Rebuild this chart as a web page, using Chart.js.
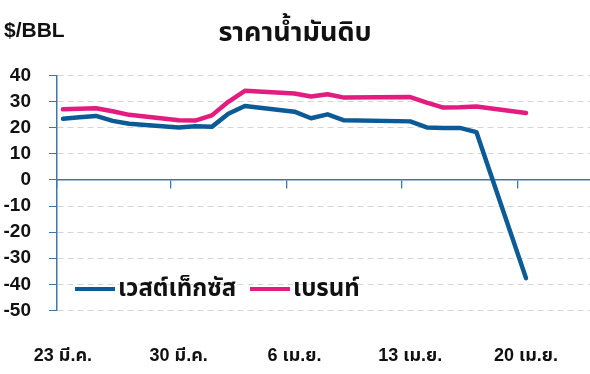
<!DOCTYPE html>
<html>
<head>
<meta charset="utf-8">
<script src="https://cdn.jsdelivr.net/npm/chart.js@4.4.1/dist/chart.umd.min.js"></script>
<style>
  html, body { margin: 0; padding: 0; background: #fff; }
  #wrap { position: relative; width: 590px; height: 374px; overflow: hidden; }
  #unit {
    position: absolute; left: 4px; top: 18px;
    font: bold 21px "Liberation Sans", Arial, sans-serif; color: #111;
  }
  #legend {
    position: absolute; left: 75px; top: 271px;
    display: flex; align-items: center;
    font: bold 24px "Noto Sans Thai", "Noto Sans", "Liberation Sans", sans-serif; color: #111;
  }
  #legend .item { display: flex; align-items: center; margin-right: 14px; }
  #legend .swatch { width: 40px; height: 4px; margin-right: 3px; }
</style>
</head>
<body>
<div id="wrap">
  <canvas id="oilchart" width="590" height="374"></canvas>
  <div id="unit">$/BBL</div>
  <div id="legend"></div>
</div>
<script>
const tradeDates = [
  "2020-03-23", "2020-03-24", "2020-03-25", "2020-03-26", "2020-03-27",
  "2020-03-30", "2020-03-31", "2020-04-01", "2020-04-02", "2020-04-03",
  "2020-04-06", "2020-04-07", "2020-04-08", "2020-04-09",
  "2020-04-13", "2020-04-14", "2020-04-15", "2020-04-16", "2020-04-17",
  "2020-04-20"
];
const wti = [23.4, 24.0, 24.5, 22.6, 21.5, 20.1, 20.5, 20.3, 25.3, 28.3,
             26.1, 23.6, 25.1, 22.8, 22.4, 20.1, 19.9, 19.9, 18.3, -37.6];
const brent = [27.0, 27.2, 27.4, 26.3, 24.9, 22.8, 22.7, 24.7, 29.9, 34.1,
               33.1, 31.9, 32.8, 31.5, 31.7, 29.6, 27.7, 27.8, 28.1, 25.6];
const tickDays = [0, 7, 14, 21, 28];
const tickLabels = ["23 มี.ค.", "30 มี.ค.", "6 เม.ย.", "13 เม.ย.", "20 เม.ย."];

const seriesNames = ["เวสต์เท็กซัส", "เบรนท์"];
const blue = "#0d5b96";
const pink = "#e31c80";
const axisBlue = "#3f78a8";
const xMin = -0.36, xMax = 31.87;

const dayOf = s => Math.round((Date.parse(s) - Date.parse(tradeDates[0])) / 86400000);
const points = vals => tradeDates.map((d, i) => ({ x: dayOf(d), y: vals[i] }));

const labelFont = { family: "'Liberation Sans', 'Noto Sans Thai', Arial, sans-serif", size: 18, weight: "bold" };

const chart = new Chart(document.getElementById("oilchart"), {
  type: "line",
  data: {
    datasets: [
      { label: seriesNames[0], data: points(wti), borderColor: blue, backgroundColor: blue },
      { label: seriesNames[1], data: points(brent), borderColor: pink, backgroundColor: pink },
    ],
  },
  options: {
    responsive: false,
    animation: false,
    layout: { padding: 0 },
    elements: {
      line: { borderWidth: 4.5, tension: 0, borderJoinStyle: "round", borderCapStyle: "round" },
      point: { radius: 0 },
    },
    plugins: {
      legend: { display: false },
      tooltip: { enabled: false },
      title: {
        display: true,
        text: "ราคาน้ำมันดิบ",
        color: "#111",
        font: { family: "'Noto Sans Thai', 'Noto Sans', sans-serif", size: 27, weight: "bold" },
        padding: { top: 19, bottom: 24 },
      },
    },
    scales: {
      x: {
        type: "linear",
        min: xMin,
        max: xMax,
        afterBuildTicks: s => { s.ticks = tickDays.map(v => ({ value: v })); },
        afterFit: s => { s.height = 63.5; },
        ticks: {
          callback: (v, i) => tickLabels[i],
          autoSkip: false,
          maxRotation: 0,
          color: "#111",
          font: labelFont,
          padding: 27,
        },
        grid: { display: false },
        border: { display: false },
      },
      xZero: {
        type: "linear",
        axis: "x",
        position: { y: 0 },
        min: xMin,
        max: xMax,
        afterBuildTicks: s => { s.ticks = tickDays.map(v => ({ value: Math.max(xMin, v - 0.5) })); },
        ticks: { display: false },
        grid: { drawOnChartArea: false, drawTicks: true, tickLength: 8, color: axisBlue, lineWidth: 1.3 },
        border: { color: axisBlue, width: 1.5 },
      },
      y: {
        min: -50,
        max: 40,
        afterFit: s => { s.width = 57; },
        ticks: { stepSize: 10, color: "#111", font: { ...labelFont, size: 19 }, padding: 18 },
        grid: { color: "#d6d6d6", lineWidth: 1, tickLength: 8, tickColor: axisBlue, tickBorderDash: [] },
        border: { color: axisBlue, width: 1.5, dash: [6, 4] },
      },
    },
  },
});

// legend drawn inside the plot, built from the datasets
const legend = document.getElementById("legend");
chart.data.datasets.forEach(ds => {
  const item = document.createElement("div");
  item.className = "item";
  const sw = document.createElement("span");
  sw.className = "swatch";
  sw.style.backgroundColor = ds.borderColor;
  const txt = document.createElement("span");
  txt.textContent = ds.label;
  item.appendChild(sw);
  item.appendChild(txt);
  legend.appendChild(item);
});
</script>
</body>
</html>
